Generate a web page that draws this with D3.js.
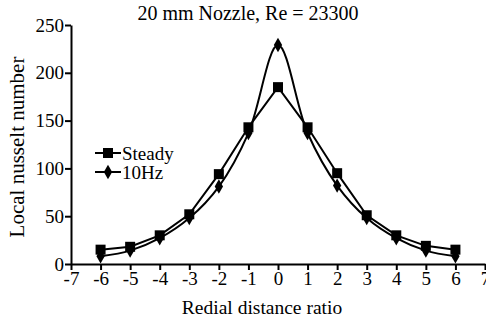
<!DOCTYPE html>
<html>
<head>
  <meta charset="utf-8">
  <script src="https://d3js.org/d3.v7.min.js"></script>
  <style>
    html, body { margin: 0; padding: 0; background: white; }
    svg { display: block; }
    text { font-family: "Liberation Serif", "Times New Roman", serif; fill: black; }
  </style>
</head>
<body>
  <script>
    // data
    const ratio = [-6, -5, -4, -3, -2, -1, 0, 1, 2, 3, 4, 5, 6];
    const steady = [15, 18, 30, 52, 94, 143, 185, 143, 95, 51, 30, 19, 15];
    const hz10 = [8, 14, 27, 48, 81, 137, 229, 137, 82, 48, 27, 14, 8];
    const xTicks = [-7, -6, -5, -4, -3, -2, -1, 0, 1, 2, 3, 4, 5, 6, 7];
    const yTicks = [0, 50, 100, 150, 200, 250];

    const width = 486, height = 323;

    const svg = d3.select("body").append("svg")
      .attr("width", width)
      .attr("height", height);

    const x = d3.scaleLinear().domain([-7, 7]).range([71, 485]);
    const y = d3.scaleLinear().domain([0, 250]).range([264, 25]);

    // axes
    const xAxis = svg.append("g")
      .attr("transform", `translate(0,${y(0)})`)
      .call(d3.axisBottom(x).tickValues(xTicks).tickSize(6).tickSizeOuter(0).tickFormat(d => String(d)));
    const yAxis = svg.append("g")
      .attr("transform", `translate(${x(-7)},0)`)
      .call(d3.axisLeft(y).tickValues(yTicks).tickSize(6).tickSizeOuter(0));

    [xAxis, yAxis].forEach(a => {
      a.select(".domain").attr("stroke", "black").attr("stroke-width", 2);
      a.selectAll(".tick line").attr("stroke", "black").attr("stroke-width", 2);
      a.selectAll(".tick text").style("font-family", "Liberation Serif").style("font-size", "19px").attr("fill", "black");
    });
    xAxis.selectAll(".tick text").attr("dy", "0.75em").attr("y", 7);
    yAxis.selectAll(".tick text").attr("x", -7);

    // lines
    const steadyLine = d3.line().x((d, i) => x(ratio[i])).y(d => y(d));
    const hzLine = d3.line().x((d, i) => x(ratio[i])).y(d => y(d)).curve(d3.curveCatmullRom.alpha(0.5));

    svg.append("path").datum(steady)
      .attr("d", steadyLine)
      .attr("fill", "none").attr("stroke", "black").attr("stroke-width", 2);
    svg.append("path").datum(hz10)
      .attr("d", hzLine)
      .attr("fill", "none").attr("stroke", "black").attr("stroke-width", 2);

    const sq = d3.symbol().type(d3.symbolSquare).size(100);
    const dm = d3.symbol().type(d3.symbolDiamond).size(60);

    svg.selectAll(".sq").data(steady).enter().append("path")
      .attr("class", "sq")
      .attr("d", sq)
      .attr("transform", (d, i) => `translate(${x(ratio[i])},${y(d)})`)
      .attr("fill", "black");
    svg.selectAll(".dm").data(hz10).enter().append("path")
      .attr("class", "dm")
      .attr("d", dm)
      .attr("transform", (d, i) => `translate(${x(ratio[i])},${y(d)})`)
      .attr("fill", "black");

    // legend
    const legend = [{name: "Steady", sym: sq}, {name: "10Hz", sym: dm}];
    const lg = svg.selectAll(".lg").data(legend).enter().append("g")
      .attr("transform", (d, i) => `translate(95,${153 + i * 19})`);
    lg.append("line").attr("x1", 0).attr("x2", 26).attr("stroke", "black").attr("stroke-width", 2);
    lg.append("path").attr("d", d => d.sym()).attr("transform", "translate(13,0)").attr("fill", "black");
    lg.append("text").attr("x", 27).attr("dy", "0.35em").style("font-size", "19px").text(d => d.name);

    // titles
    svg.append("text")
      .attr("x", 248).attr("y", 20)
      .attr("text-anchor", "middle")
      .style("font-size", "20px")
      .text("20 mm Nozzle, Re = 23300");

    svg.append("text")
      .attr("x", 262).attr("y", 314)
      .attr("text-anchor", "middle")
      .style("font-size", "19.5px")
      .text("Redial distance ratio");

    svg.append("text")
      .attr("transform", "translate(24,147) rotate(-90)")
      .attr("text-anchor", "middle")
      .style("font-size", "21px")
      .text("Local nusselt number");
  </script>
</body>
</html>
